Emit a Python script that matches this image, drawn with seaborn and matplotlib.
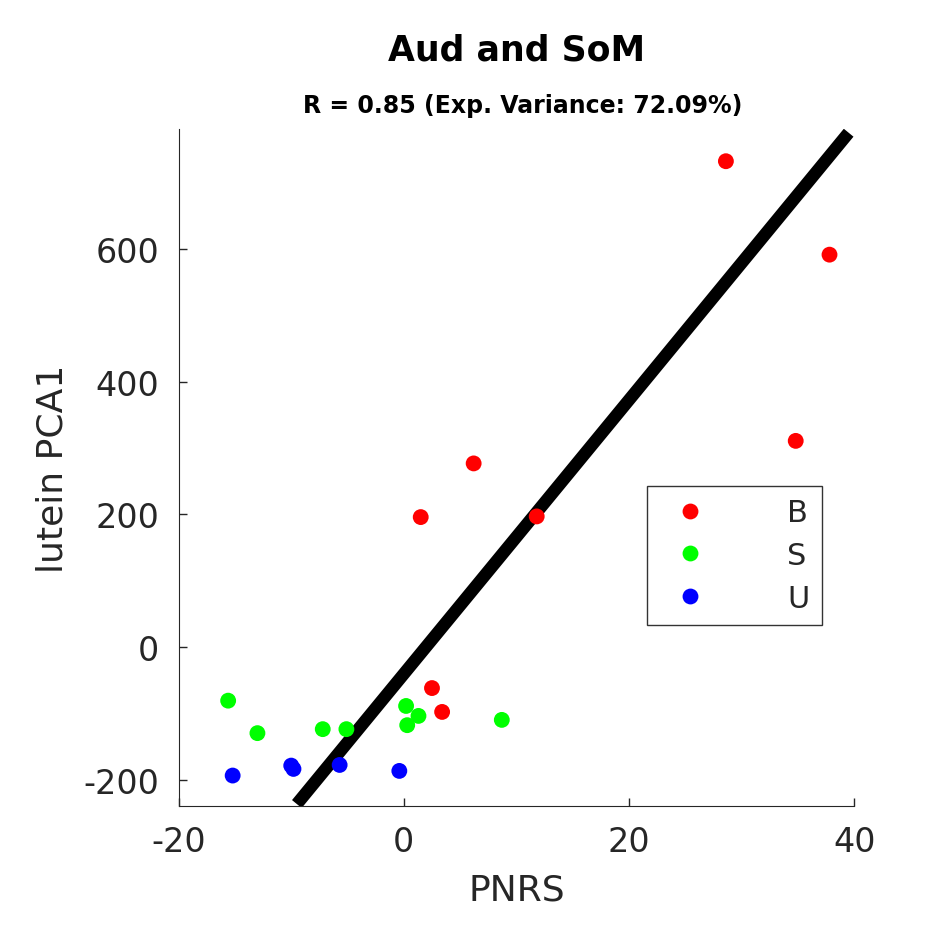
import matplotlib
matplotlib.use("Agg")
import matplotlib.pyplot as plt
import seaborn as sns
import pandas as pd

b_x = [28.6, 37.8, 34.8, 6.2, 1.5, 11.8, 2.5, 3.4]
b_y = [733, 592, 311, 277, 196, 197, -62, -98]
s_x = [-15.6, -13.0, -7.2, -5.1, 0.2, 1.3, 0.3, 8.7]
s_y = [-81, -130, -124, -124, -89, -104, -118, -110]
u_x = [-15.2, -10.0, -9.8, -5.7, -0.4]
u_y = [-194, -179, -184, -178, -187]
line_x = [-9.5, 39.5]
line_y = [-237, 776]

df = pd.DataFrame({
    "PNRS": b_x + s_x + u_x,
    "PCA1": b_y + s_y + u_y,
    "group": ["B"] * len(b_x) + ["S"] * len(s_x) + ["U"] * len(u_x),
})

sns.set_style("white")
plt.rcParams['font.family'] = ['DejaVu Sans']
plt.rcParams['axes.unicode_minus'] = False
fig = plt.figure(figsize=(9.45, 9.45), dpi=100)
ax = fig.add_axes([0.189, 0.146, 0.715, 0.716])
ax.plot(line_x, line_y, color="black", lw=9, solid_capstyle="butt", zorder=1)
sns.scatterplot(data=df, x="PNRS", y="PCA1", hue="group",
                palette={"B": "#ff0000", "S": "#00ff00", "U": "#0000ff"},
                s=130, edgecolor="none", ax=ax, zorder=2)
ax.set_xlim(-20, 40)
ax.set_ylim(-240, 781)
ax.set_xticks([-20, 0, 20, 40])
ax.set_yticks([-200, 0, 200, 400, 600])
ax.tick_params(labelsize=24, colors="#262626", direction="in", length=6, width=1,
               bottom=True, left=True, pad=14)
for s in ["top", "right"]:
    ax.spines[s].set_visible(False)
for s in ["left", "bottom"]:
    ax.spines[s].set_color("#262626")
ax.set_xlabel("PNRS", fontsize=26, color="#262626", labelpad=10)
ax.set_ylabel("lutein PCA1", fontsize=26, color="#262626", labelpad=10)
fig.text(0.547, 0.947, "Aud and SoM", ha="center", va="center", fontsize=25, fontweight="bold", color="black")
fig.text(0.553, 0.888, "R = 0.85 (Exp. Variance: 72.09%)", ha="center", va="center", fontsize=17, fontweight="bold", color="black")
leg = ax.legend(loc="upper left", bbox_to_anchor=(0.693, 0.473), fontsize=22, frameon=True,
                fancybox=False, edgecolor="black", markerscale=1.0, handletextpad=2.2,
                borderpad=0.4, labelspacing=0.45, borderaxespad=0)
leg.get_frame().set_linewidth(1)
fig.savefig("out.png", dpi=100)
